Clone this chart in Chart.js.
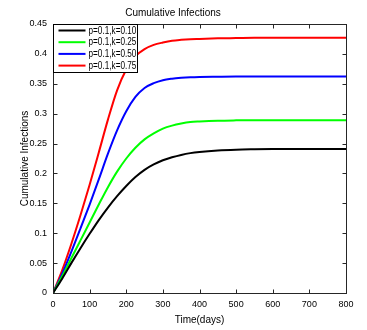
<!DOCTYPE html>
<html><head><meta charset="utf-8">
<script src="https://cdn.jsdelivr.net/npm/chart.js@4/dist/chart.umd.min.js"></script>
<style>html,body{margin:0;padding:0;background:#fff;}#wrap{width:367px;height:330px;}</style>
</head><body><div id="wrap"><canvas id="c" width="367" height="330"></canvas></div>
<script>
// ---- data ----
const days = [0,25,50,75,100,125,150,175,200,225,250,275,300,325,350,375,400,450,500,550,600,650,700,750,800];
const seriesLabels = ['p=0.1,k=0.10','p=0.1,k=0.25','p=0.1,k=0.50','p=0.1,k=0.75'];
const seriesColors = ['#000000','#00ff00','#0000ff','#ff0000'];
const infK010 = [0,0.024,0.050,0.075,0.099,0.122,0.143,0.162,0.179,0.194,0.206,0.215,0.222,0.227,0.231,0.234,0.236,0.2385,0.2398,0.2404,0.2408,0.241,0.241,0.241,0.241];
const infK025 = [0,0.028,0.058,0.088,0.118,0.148,0.177,0.203,0.225,0.243,0.257,0.267,0.275,0.280,0.2835,0.286,0.287,0.2883,0.2888,0.289,0.289,0.289,0.289,0.289,0.289];
const infK050 = [0,0.032,0.069,0.108,0.148,0.190,0.233,0.272,0.304,0.328,0.343,0.351,0.356,0.3585,0.360,0.361,0.3615,0.3618,0.362,0.362,0.362,0.362,0.362,0.362,0.362];
const infK075 = [0,0.038,0.082,0.130,0.181,0.235,0.290,0.339,0.374,0.396,0.408,0.415,0.419,0.422,0.4235,0.4245,0.425,0.426,0.4265,0.427,0.427,0.427,0.427,0.427,0.427];
const xTicks = [0,100,200,300,400,500,600,700,800];
const yTicks = [0,0.05,0.1,0.15,0.2,0.25,0.3,0.35,0.4,0.45];
const chartTitle = 'Cumulative Infections';
const xTitle = 'Time(days)';
const yTitle = 'Cumulative Infections';

const FONT = "'Liberation Sans',Arial,Helvetica,sans-serif";
const allSeries = [infK010, infK025, infK050, infK075];

const framePlugin = {
  id: 'frame',
  afterDatasetsDraw(chart) {
    const {ctx, chartArea: a, scales: {x, y}} = chart;
    ctx.save();
    ctx.strokeStyle = '#262626';
    ctx.lineWidth = 1;
    const L = Math.round(a.left) + 0.5, R = Math.round(a.right) + 0.5;
    const T = Math.round(a.top) + 0.5, B = Math.round(a.bottom) + 0.5;
    ctx.strokeRect(L, T, R - L, B - T);
    ctx.beginPath();
    x.ticks.forEach(t => {
      const px = Math.round(x.getPixelForValue(t.value)) + 0.5;
      ctx.moveTo(px, B); ctx.lineTo(px, B - 4);
      ctx.moveTo(px, T); ctx.lineTo(px, T + 4);
    });
    y.ticks.forEach(t => {
      const py = Math.round(y.getPixelForValue(t.value)) + 0.5;
      ctx.moveTo(L, py); ctx.lineTo(L + 4, py);
      ctx.moveTo(R, py); ctx.lineTo(R - 4, py);
    });
    ctx.stroke();
    // legend box
    const bw = 84, bh = 48;
    ctx.fillStyle = '#fff';
    ctx.fillRect(L, T, bw, bh);
    ctx.strokeStyle = '#000';
    ctx.lineWidth = 1;
    ctx.strokeRect(L, T, bw, bh);
    chart.data.datasets.forEach((ds, i) => {
      const cy = T + 6 + i * 11.7;
      ctx.beginPath();
      ctx.strokeStyle = ds.borderColor;
      ctx.lineWidth = 2;
      ctx.moveTo(L + 5, cy); ctx.lineTo(L + 32, cy);
      ctx.stroke();
      ctx.save();
      ctx.translate(L + 35, cy + 0.5);
      ctx.scale(0.82, 1);
      ctx.font = "10px " + FONT;
      ctx.textBaseline = 'middle';
      ctx.textAlign = 'left';
      ctx.fillStyle = '#000';
      ctx.fillText(ds.label, 0, 0);
      ctx.restore();
    });
    ctx.restore();
  }
};

new Chart(document.getElementById('c'), {
  type: 'line',
  data: {
    datasets: allSeries.map((vals, i) => ({
      label: seriesLabels[i],
      data: days.map((d, j) => ({x: d, y: vals[j]})),
      borderColor: seriesColors[i],
      backgroundColor: seriesColors[i],
      borderWidth: 2,
      pointRadius: 0,
      fill: false,
      cubicInterpolationMode: 'monotone'
    }))
  },
  options: {
    responsive: false,
    animation: false,
    devicePixelRatio: 1,
    layout: {padding: {left: 0, right: 21, top: 0, bottom: 0}},
    plugins: {
      legend: {display: false},
      tooltip: {enabled: false},
      title: {
        display: true, text: chartTitle, color: '#000',
        font: {family: FONT, size: 10, weight: 'normal'},
        padding: {top: 7, bottom: 5}
      }
    },
    scales: {
      x: {
        type: 'linear', min: 0, max: 800,
        afterBuildTicks: s => { s.ticks = xTicks.map(v => ({value: v})); },
        afterFit: s => { s.height = 37; },
        grid: {display: true, drawOnChartArea: false, drawTicks: false},
        border: {display: false},
        ticks: {color: '#000', font: {family: FONT, size: 9}, padding: 6, maxRotation: 0},
        title: {display: true, text: xTitle, color: '#000', font: {family: FONT, size: 10}, padding: {top: 0, bottom: 4}}
      },
      y: {
        type: 'linear', min: 0, max: 0.45,
        afterBuildTicks: s => { s.ticks = yTicks.map(v => ({value: v})); },
        afterFit: s => { s.width = 53; },
        grid: {display: true, drawOnChartArea: false, drawTicks: false},
        border: {display: false},
        ticks: {color: '#000', font: {family: FONT, size: 9}, padding: 6,
          callback: v => String(Number(v.toFixed(2)))},
        title: {display: true, text: yTitle, color: '#000', font: {family: FONT, size: 10}, padding: {top: 19, bottom: 0}}
      }
    }
  },
  plugins: [framePlugin]
});
</script>
</body></html>
